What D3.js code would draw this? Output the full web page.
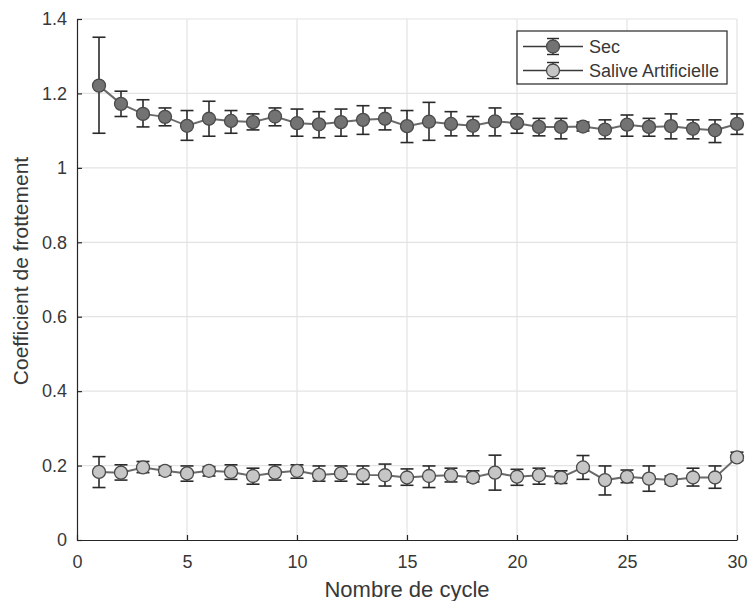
<!DOCTYPE html>
<html><head><meta charset="utf-8">
<script src="https://cdn.jsdelivr.net/npm/d3@7"></script>
<style>body{margin:0;background:#fff;} svg{display:block;font-family:"Liberation Sans",Arial,sans-serif;}</style>
</head><body>
<svg id="c" width="750" height="601"></svg>
<script>
const cycles = d3.range(1, 31);
const secMean = [1.221,1.172,1.145,1.137,1.113,1.132,1.126,1.123,1.138,1.120,1.117,1.123,1.129,1.132,1.112,1.124,1.118,1.113,1.125,1.120,1.110,1.110,1.111,1.103,1.116,1.110,1.112,1.105,1.101,1.118];
const secHigh = [1.351,1.206,1.183,1.161,1.154,1.179,1.154,1.145,1.161,1.158,1.151,1.158,1.167,1.161,1.154,1.176,1.151,1.138,1.161,1.145,1.133,1.133,1.123,1.129,1.142,1.133,1.145,1.129,1.129,1.145];
const secLow  = [1.093,1.138,1.110,1.113,1.074,1.085,1.093,1.102,1.113,1.085,1.081,1.085,1.090,1.102,1.068,1.074,1.086,1.086,1.086,1.093,1.086,1.078,1.099,1.078,1.085,1.085,1.078,1.078,1.068,1.090];
const salMean = [0.183,0.181,0.195,0.186,0.179,0.186,0.183,0.172,0.181,0.186,0.175,0.179,0.175,0.174,0.168,0.172,0.174,0.168,0.181,0.170,0.174,0.168,0.195,0.161,0.170,0.165,0.161,0.168,0.168,0.222];
const salHigh = [0.224,0.202,0.211,0.197,0.199,0.197,0.202,0.193,0.202,0.202,0.199,0.199,0.199,0.204,0.191,0.199,0.193,0.186,0.228,0.190,0.193,0.186,0.227,0.199,0.188,0.199,0.172,0.193,0.199,0.236];
const salLow  = [0.141,0.161,0.181,0.174,0.158,0.172,0.163,0.150,0.161,0.166,0.158,0.158,0.150,0.145,0.147,0.141,0.156,0.156,0.134,0.147,0.150,0.152,0.163,0.121,0.154,0.131,0.150,0.145,0.139,0.213];
const xTicks = [0,5,10,15,20,25,30];
const yTicks = [0,0.2,0.4,0.6,0.8,1,1.2,1.4];
const seriesNames = ["Sec","Salive Artificielle"];

const svg = d3.select("#c");
const x = d3.scaleLinear().domain([0,30]).range([77,737]);
const y = d3.scaleLinear().domain([0,1.4]).range([540,19]);
const axisCol = "#262626";
const textCol = "#383838";

// grid
const g = svg.append("g");
g.selectAll(".gx").data(xTicks.slice(1)).enter().append("line")
  .attr("x1",d=>x(d)).attr("x2",d=>x(d)).attr("y1",y(0)).attr("y2",y(1.4))
  .attr("stroke","#e3e3e3").attr("stroke-width",1.2);
g.selectAll(".gy").data(yTicks.slice(1)).enter().append("line")
  .attr("x1",x(0)).attr("x2",x(30)).attr("y1",d=>y(d)).attr("y2",d=>y(d))
  .attr("stroke","#e3e3e3").attr("stroke-width",1.2);

// axes
const fmt = d => d3.format("~g")(d);
const xa = svg.append("g").attr("transform",`translate(0,${y(0)})`)
  .call(d3.axisBottom(x).tickValues(xTicks).tickFormat(fmt).tickSizeInner(-5).tickSizeOuter(0).tickPadding(15));
const ya = svg.append("g").attr("transform",`translate(${x(0)},0)`)
  .call(d3.axisLeft(y).tickValues(yTicks).tickFormat(fmt).tickSizeInner(-5).tickSizeOuter(0).tickPadding(10));
[xa,ya].forEach(a=>{
  a.select(".domain").attr("stroke",axisCol).attr("stroke-width",1.2);
  a.selectAll(".tick line").attr("stroke",axisCol).attr("stroke-width",1.2);
  a.selectAll(".tick text").attr("fill",textCol).attr("font-size",18).attr("font-family","Liberation Sans, Arial, sans-serif");
});

svg.append("text").attr("x",407).attr("y",597).attr("text-anchor","middle")
  .attr("font-size",22).attr("fill",textCol).text("Nombre de cycle");
svg.append("text").attr("transform",`translate(28,271) rotate(-90)`).attr("text-anchor","middle")
  .attr("font-size",21).attr("fill",textCol).text("Coefficient de frottement");

function drawSeries(mean, lo, hi, fill){
  const data = cycles.map((c,i)=>({c, m:mean[i], lo:lo[i], hi:hi[i]}));
  const s = svg.append("g");
  s.append("path").datum(data).attr("fill","none").attr("stroke","#6a6a6a").attr("stroke-width",2)
    .attr("d", d3.line().x(d=>x(d.c)).y(d=>y(d.m)));
  const eb = s.selectAll(".eb").data(data).enter().append("g");
  eb.append("line").attr("x1",d=>x(d.c)).attr("x2",d=>x(d.c)).attr("y1",d=>y(d.lo)).attr("y2",d=>y(d.hi))
    .attr("stroke","#2a2a2a").attr("stroke-width",1.6);
  eb.append("line").attr("x1",d=>x(d.c)-6.5).attr("x2",d=>x(d.c)+6.5).attr("y1",d=>y(d.hi)).attr("y2",d=>y(d.hi))
    .attr("stroke","#2a2a2a").attr("stroke-width",1.6);
  eb.append("line").attr("x1",d=>x(d.c)-6.5).attr("x2",d=>x(d.c)+6.5).attr("y1",d=>y(d.lo)).attr("y2",d=>y(d.lo))
    .attr("stroke","#2a2a2a").attr("stroke-width",1.6);
  s.selectAll("circle").data(data).enter().append("circle")
    .attr("cx",d=>x(d.c)).attr("cy",d=>y(d.m)).attr("r",6.5)
    .attr("fill",fill).attr("stroke","#4a4a4a").attr("stroke-width",1.3);
}
drawSeries(secMean, secLow, secHigh, "#737373");
drawSeries(salMean, salLow, salHigh, "#c6c6c6");

// legend
const lg = svg.append("g");
lg.append("rect").attr("x",517).attr("y",31).attr("width",210).attr("height",53)
  .attr("fill","#fff").attr("stroke","#262626").attr("stroke-width",1.2);
const fills = ["#737373","#c6c6c6"];
seriesNames.forEach((n,i)=>{
  const yy = 46.5 + i*24;
  lg.append("line").attr("x1",523).attr("x2",583).attr("y1",yy).attr("y2",yy).attr("stroke","#3a3a3a").attr("stroke-width",1.3);
  lg.append("line").attr("x1",553).attr("x2",553).attr("y1",yy-8).attr("y2",yy+8).attr("stroke","#2a2a2a").attr("stroke-width",1.4);
  [-8,8].forEach(o=>lg.append("line").attr("x1",547).attr("x2",559).attr("y1",yy+o).attr("y2",yy+o).attr("stroke","#2a2a2a").attr("stroke-width",1.4));
  lg.append("circle").attr("cx",553).attr("cy",yy).attr("r",6.5).attr("fill",fills[i]).attr("stroke","#4a4a4a").attr("stroke-width",1.3);
  lg.append("text").attr("x",589).attr("y",yy+6.5).attr("font-size",18).attr("fill",textCol).text(n);
});
</script>
</body></html>
